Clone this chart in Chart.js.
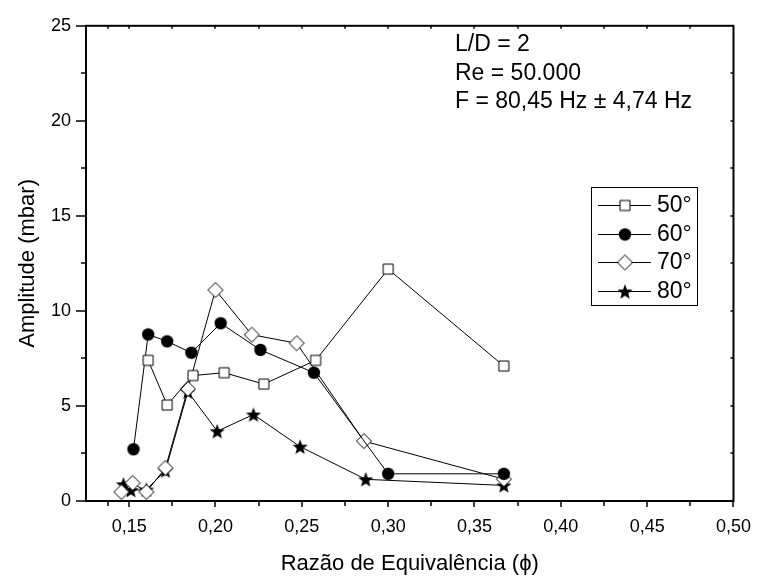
<!DOCTYPE html>
<html>
<head>
<meta charset="utf-8">
<script src="https://cdn.jsdelivr.net/npm/chart.js@4.4.0/dist/chart.umd.min.js"></script>
<style>
  html, body { margin: 0; padding: 0; background: #fff; }
  #wrap { width: 766px; height: 581px; }
</style>
</head>
<body>
<div id="wrap"><canvas id="myChart"></canvas></div>
<script>
// equivalence ratio (x) and pressure amplitude in mbar (y) for each angle
const phi50 = [0.161, 0.172, 0.187, 0.205, 0.228, 0.258, 0.300, 0.367];
const amp50 = [7.4, 5.05, 6.6, 6.75, 6.15, 7.4, 12.2, 7.1];

const phi60 = [0.1525, 0.161, 0.172, 0.186, 0.203, 0.226, 0.257, 0.300, 0.367];
const amp60 = [2.72, 8.76, 8.4, 7.8, 9.35, 7.95, 6.75, 1.43, 1.43];

const phi70 = [0.1455, 0.152, 0.160, 0.171, 0.184, 0.200, 0.221, 0.247, 0.286, 0.367];
const amp70 = [0.48, 0.95, 0.48, 1.74, 5.9, 11.1, 8.75, 8.3, 3.15, 1.15];

const phi80 = [0.1467, 0.151, 0.160, 0.171, 0.184, 0.201, 0.222, 0.249, 0.287, 0.367];
const amp80 = [0.88, 0.57, 0.6, 1.6, 5.75, 3.67, 4.55, 2.86, 1.14, 0.82];

const seriesNames = ["50°", "60°", "70°", "80°"];
const xTicks = [0.15, 0.20, 0.25, 0.30, 0.35, 0.40, 0.45, 0.50];
const yTicks = [0, 5, 10, 15, 20, 25];
const notes = ["L/D = 2", "Re = 50.000", "F = 80,45 Hz \u00B1 4,74 Hz"];

const FONT = "Arial, 'Liberation Sans', sans-serif";

// little canvases used as point styles (and reused in the legend)
function makeMarker(kind) {
  const c = document.createElement("canvas");
  c.width = 20;
  c.height = 20;
  const g = c.getContext("2d");
  g.translate(10, 10);
  g.lineWidth = 1;
  g.strokeStyle = "#000";
  g.fillStyle = "#000";
  g.beginPath();
  if (kind === "square") {
    g.rect(-5, -5, 10, 10);
    g.fillStyle = "#fff";
    g.fill();
    g.stroke();
  } else if (kind === "circle") {
    g.arc(0, 0, 6.2, 0, Math.PI * 2);
    g.fill();
  } else if (kind === "diamond") {
    g.moveTo(0, -7.5);
    g.lineTo(7.5, 0);
    g.lineTo(0, 7.5);
    g.lineTo(-7.5, 0);
    g.closePath();
    g.fillStyle = "#fff";
    g.fill();
    g.stroke();
  } else {
    for (let i = 0; i < 10; i++) {
      const r = i % 2 ? 3.4 : 8;
      const a = -Math.PI / 2 + i * Math.PI / 5;
      g.lineTo(Math.cos(a) * r, Math.sin(a) * r + 0.8);
    }
    g.closePath();
    g.fill();
  }
  return c;
}

const markers = [makeMarker("square"), makeMarker("circle"), makeMarker("diamond"), makeMarker("star")];

function toPoints(xs, ys) {
  return xs.map((x, i) => ({ x: x, y: ys[i] }));
}

function fmt(v) {
  return v.toFixed(2).replace(".", ",");
}

// frame with Origin-style ticks: out on bottom/left, small ones in on top/right
const framePlugin = {
  id: "frame",
  afterDraw(chart) {
    const { ctx, chartArea: a, scales } = chart;
    const xs = scales.x, ys = scales.y;
    const xMinor = [];
    for (let i = 0; i < xTicks.length; i++) {
      const prev = i === 0 ? xs.min : xTicks[i - 1];
      xMinor.push((prev + xTicks[i]) / 2);
    }
    const yMinor = [];
    for (let i = 1; i < yTicks.length; i++) yMinor.push((yTicks[i - 1] + yTicks[i]) / 2);

    ctx.save();
    ctx.strokeStyle = "#000";
    ctx.lineWidth = 1.5;
    ctx.beginPath();
    xTicks.map(v => [v, 6]).concat(xMinor.map(v => [v, 5])).forEach(([v, len]) => {
      const px = Math.round(xs.getPixelForValue(v));
      ctx.moveTo(px, a.bottom);
      ctx.lineTo(px, a.bottom + len);
      if (px > a.left + 2 && px < a.right - 2) {
        ctx.moveTo(px, a.top);
        ctx.lineTo(px, a.top + 3);
      }
    });
    yTicks.map(v => [v, 10]).concat(yMinor.map(v => [v, 5])).forEach(([v, len]) => {
      const py = Math.round(ys.getPixelForValue(v));
      ctx.moveTo(a.left, py);
      ctx.lineTo(a.left - len, py);
      if (py > a.top + 2 && py < a.bottom - 2) {
        ctx.moveTo(a.right, py);
        ctx.lineTo(a.right - 3, py);
      }
    });
    ctx.stroke();
    ctx.lineWidth = 2;
    ctx.strokeRect(a.left, a.top, a.right - a.left, a.bottom - a.top);
    ctx.restore();
  }
};

// boxed legend with line + marker samples, and the run conditions text
const legendPlugin = {
  id: "boxLegend",
  afterDraw(chart) {
    const ctx = chart.ctx;
    ctx.save();
    ctx.strokeStyle = "#000";
    ctx.lineWidth = 1;
    ctx.strokeRect(591.5, 187.5, 106, 118);
    ctx.font = "23px " + FONT;
    ctx.fillStyle = "#000";
    ctx.textBaseline = "middle";
    seriesNames.forEach((name, i) => {
      const y = Math.round(205 + i * 28.5);
      ctx.beginPath();
      ctx.moveTo(598, y + 0.5);
      ctx.lineTo(651, y + 0.5);
      ctx.stroke();
      ctx.drawImage(markers[i], 625 - 10, y - 10 + 0.5);
      ctx.fillText(name, 657, y + 1);
    });
    notes.forEach((t, i) => {
      ctx.fillText(t, 455, 45 + i * 28.5);
    });
    ctx.restore();
  }
};

const datasets = [
  [phi50, amp50], [phi60, amp60], [phi70, amp70], [phi80, amp80]
].map(([xs, ys], i) => ({
  label: seriesNames[i],
  data: toPoints(xs, ys),
  borderColor: "#000",
  borderWidth: 1,
  backgroundColor: "#000",
  pointStyle: markers[i],
  pointRadius: 6,
  tension: 0,
  fill: false
}));

new Chart(document.getElementById("myChart"), {
  type: "line",
  data: { datasets: datasets },
  plugins: [framePlugin, legendPlugin],
  options: {
    responsive: true,
    maintainAspectRatio: false,
    animation: false,
    layout: { padding: { top: 17, right: 23, left: 0, bottom: 0 } },
    plugins: {
      legend: { display: false },
      tooltip: { enabled: false }
    },
    scales: {
      x: {
        type: "linear",
        min: 0.125,
        max: 0.5,
        afterBuildTicks: s => { s.ticks = xTicks.map(v => ({ value: v })); },
        afterFit: s => { s.height = 80; },
        grid: { display: false, drawTicks: false },
        border: { display: false },
        ticks: {
          color: "#000",
          font: { family: FONT, size: 18 },
          padding: 15,
          maxRotation: 0,
          callback: v => fmt(v)
        },
        title: {
          display: true,
          text: "Razão de Equivalência (\u03D5)",
          color: "#000",
          font: { family: FONT, size: 22 },
          padding: { top: 0, bottom: 4 }
        }
      },
      y: {
        min: 0,
        max: 25,
        afterBuildTicks: s => { s.ticks = yTicks.map(v => ({ value: v })); },
        afterFit: s => { s.width = 86; },
        grid: { display: false, drawTicks: false },
        border: { display: false },
        ticks: {
          color: "#000",
          font: { family: FONT, size: 18 },
          padding: 15
        },
        title: {
          display: true,
          text: "Amplitude (mbar)",
          color: "#000",
          font: { family: FONT, size: 22 },
          padding: { top: 15, bottom: 0 }
        }
      }
    }
  }
});
</script>
</body>
</html>
